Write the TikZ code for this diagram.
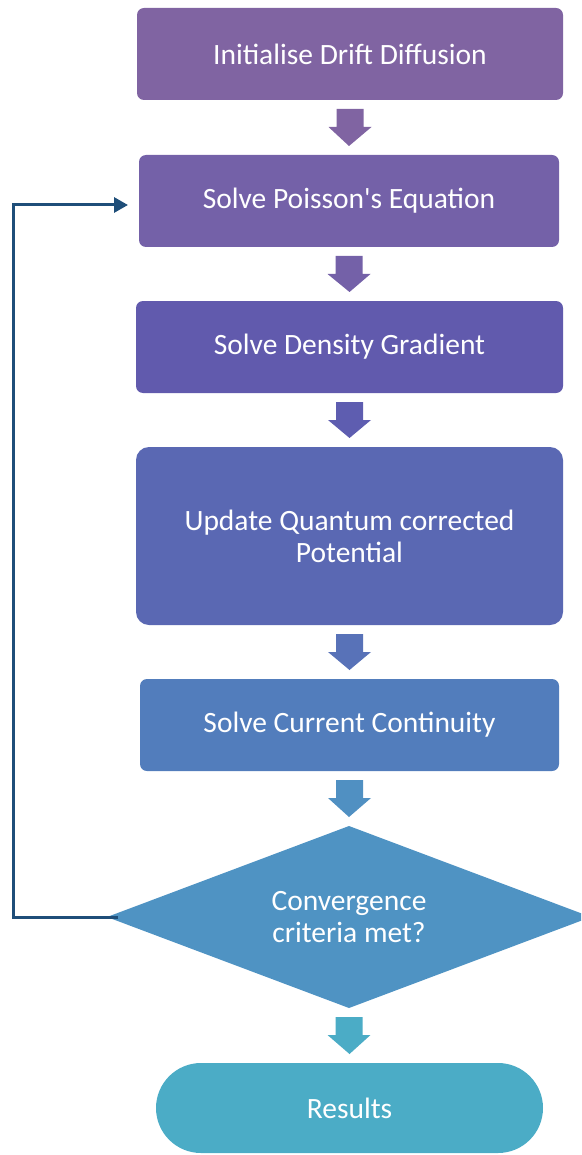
\documentclass[tikz,border=0pt]{standalone}
\usepackage{fontspec}
\setmainfont{Carlito}[Ligatures=TeXOff]
\usetikzlibrary{shapes.geometric,calc,arrows.meta}

\definecolor{cInit}{HTML}{8064A2}
\definecolor{cPois}{HTML}{7461A8}
\definecolor{cDens}{HTML}{615AAD}
\definecolor{cQuan}{HTML}{5A68B3}
\definecolor{cCurr}{HTML}{527DBC}
\definecolor{cConv}{HTML}{4F93C3}
\definecolor{cRes}{HTML}{4BACC6}
\definecolor{aDens}{HTML}{5E5DB0}
\definecolor{aQuan}{HTML}{5872B8}
\definecolor{aConv}{HTML}{5090C2}
\definecolor{loopline}{HTML}{1F4E79}

% block arrow pointing down from the bottom of #1 to the top of #2
\newcommand{\downarrowblock}[3]{%
  \fill[#3]
    ($(#1.south)+(-13.5,9)$) -- ($(#1.south)+(13.5,9)$) --
    ($(#1.south)+(13.5,27)$) -- ($(#1.south)+(21.5,27)$) --
    ($(#2.north)+(0,-9)$) --
    ($(#1.south)+(-21.5,27)$) -- ($(#1.south)+(-13.5,27)$) -- cycle;}

\begin{document}
\begin{tikzpicture}[x=1pt,y=-1pt,
  txt/.style={text=white, font=\fontsize{29.5}{32}\selectfont, align=center,
              inner sep=0pt, outer sep=0pt},
  stepbox/.style={txt, rectangle, rounded corners=7pt,
                  minimum height=92pt},
  decision/.style={txt, diamond, aspect=2.66,
                   minimum width=484pt, minimum height=182pt},
  terminal/.style={txt, rectangle, rounded corners=45pt,
                   minimum width=387pt, minimum height=90pt},
  feedback/.style={draw=loopline, line width=3pt,
                   -{Triangle[width=15pt,length=14pt]}}]
\useasboundingbox (0,0) rectangle (581,1155);
\clip (0,0) rectangle (581,1155);

\node[stepbox, fill=cInit, minimum width=426pt] (init) at (350,54)
  {Initialise Drift Diffusion};
\node[stepbox, fill=cPois, minimum width=420pt] (poisson) at (349,201)
  {Solve Poisson's Equation};
\node[stepbox, fill=cDens, minimum width=427pt] (density) at (349.5,347)
  {Solve Density Gradient};
\node[stepbox, fill=cQuan, minimum width=427pt, minimum height=178pt,
      rounded corners=13pt] (quantum) at (349.5,536)
  {Update Quantum corrected\\Potential};
\node[stepbox, fill=cCurr, minimum width=419pt] (current) at (349.5,725)
  {Solve Current Continuity};
\node[decision, fill=cConv] (conv) at (349,917)
  {Convergence\\criteria met?};
\node[terminal, fill=cRes] (results) at (349.5,1108) {Results};

\downarrowblock{init}{poisson}{cInit}
\downarrowblock{poisson}{density}{cPois}
\downarrowblock{density}{quantum}{aDens}
\downarrowblock{quantum}{current}{aQuan}
\downarrowblock{current}{conv}{aConv}
\downarrowblock{conv}{results}{cRes}

% loop back to Poisson when not converged
\coordinate (turn) at (13,205);
\coordinate (entry) at ($(poisson.west)+(-11,4)$);
\draw[feedback] ($(conv.west)+(11,0)$) -| (turn) -- (entry);
\end{tikzpicture}
\end{document}
